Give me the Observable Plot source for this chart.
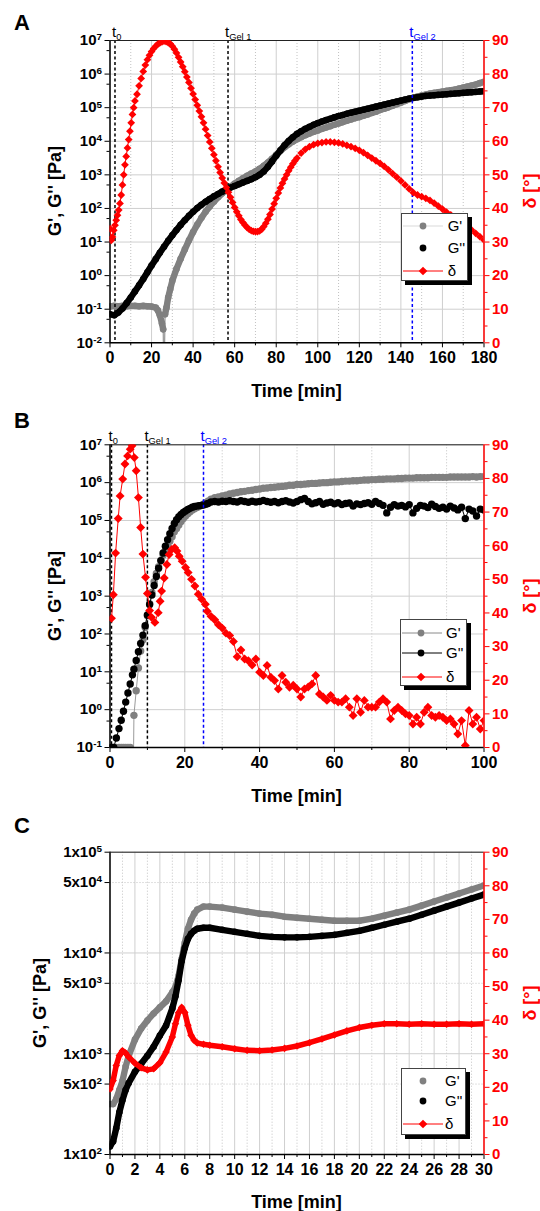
<!DOCTYPE html>
<html>
<head>
<meta charset="utf-8">
<script src="https://cdn.jsdelivr.net/npm/d3@7"></script>
<script src="https://cdn.jsdelivr.net/npm/@observablehq/plot@0.6"></script>
<style>
html,body{margin:0;padding:0;background:#fff;}
#root{position:relative;width:540px;height:1211px;overflow:hidden;background:#fff;font-family:"Liberation Sans",Arial,Helvetica,sans-serif;}
.lbl{position:absolute;white-space:nowrap;line-height:1;}
</style>
</head>
<body>
<div id="root"></div>
<script>
// ---------------- Panel A data ----------------
const A_time_G2 = [0,2,4,6,8,10,12,14,16,18,20,22,24,26,28,30,32,34,36,38,40,42,44,46,48,50,52,54,56,58,60,62,64,66,68,70,72,74,76,78,80,82,84,86,88,90,92,94,96,98,100,102,104,106,108,110,112,114,116,118,120,122,124,126,128,130,132,134,136,138,140,142,144,146,148,150,152,154,156,158,160,162,164,166,168,170,172,174,176,178,180];
const A_G2_log10 = [-1.15,-1.18,-1.1,-0.98,-0.82,-0.65,-0.47,-0.29,-0.1,0.1,0.3,0.49,0.68,0.86,1.04,1.2,1.36,1.51,1.65,1.78,1.9,2.01,2.11,2.2,2.28,2.36,2.43,2.5,2.56,2.62,2.67,2.72,2.77,2.82,2.87,2.93,3.0,3.1,3.24,3.4,3.57,3.73,3.88,4.01,4.12,4.22,4.3,4.37,4.43,4.49,4.54,4.59,4.63,4.67,4.71,4.75,4.78,4.82,4.85,4.88,4.91,4.94,4.97,5.0,5.03,5.06,5.09,5.12,5.15,5.18,5.21,5.24,5.27,5.29,5.31,5.33,5.35,5.36,5.37,5.38,5.39,5.4,5.41,5.42,5.43,5.44,5.45,5.46,5.47,5.48,5.49];
const A_time_G1 = [0,2,4,6,8,10,12,14,16,18,20,22,23,24,25,25.6,25.9,26.5,27.2,28,29,30,32,34,36,38,40,42,44,46,48,50,52,54,56,58,60,62,64,66,68,70,72,74,76,78,80,82,84,86,88,90,92,94,96,98,100,102,104,106,108,110,112,114,116,118,120,122,124,126,128,130,132,134,136,138,140,142,144,146,148,150,152,154,156,158,160,162,164,166,168,170,172,174,176,178,180];
const A_G1_log10 = [-0.92,-0.9,-0.91,-0.9,-0.91,-0.9,-0.9,-0.91,-0.9,-0.91,-0.92,-0.95,-1.03,-1.18,-1.42,-1.6,-4,-1.15,-0.95,-0.65,-0.4,-0.15,0.2,0.5,0.78,1.05,1.3,1.52,1.72,1.9,2.06,2.2,2.33,2.45,2.55,2.65,2.74,2.82,2.9,2.97,3.04,3.1,3.18,3.27,3.37,3.48,3.6,3.71,3.82,3.91,3.99,4.06,4.12,4.18,4.23,4.28,4.32,4.37,4.41,4.45,4.49,4.53,4.57,4.61,4.65,4.69,4.72,4.76,4.8,4.84,4.88,4.93,4.97,5.01,5.06,5.1,5.15,5.2,5.25,5.3,5.33,5.36,5.39,5.42,5.44,5.46,5.48,5.5,5.52,5.54,5.57,5.6,5.63,5.66,5.69,5.73,5.77];
const A_time_delta = [0,0.6,1.2,1.8,2.4,3,3.6,4.2,4.8,5.4,6,6.6,7.2,7.8,8.4,9,9.6,10.2,10.8,11.4,12,13,14,15,16,17,18,19,20,21,22,23,24,25,26,27,28,29,30,31,32,33,34,35,36,37,38,39,40,41,42,43,44,45,46,47,48,49,50,51,52,53,54,55,56,57,58,59,60,61,62,63,64,65,66,67,68,69,70,71,72,73,74,75,76,77,78,79,80,81,82,83,84,85,86,87,88,89,90,92,94,96,98,100,102,104,106,108,110,112,114,116,118,120,122,124,126,128,130,132,134,136,138,140,142,144,146,148,150,152,154,156,158,160,162,164,166,168,170,172,174,176,178,180];
const A_delta = [34,30.5,31.5,33.5,35,36.5,38,39.5,41.5,44,47,50,53,55.5,58,60.5,63,65.5,68,70,72,74,76.5,78.7,80.8,82.7,84.3,85.6,86.7,87.6,88.3,88.9,89.3,89.6,89.8,89.7,89.4,89,88.3,87.4,86.3,85,83.6,82.2,80.7,79.1,77.5,75.8,74.1,72.4,70.7,69,67.3,65.5,63.6,61.7,59.8,57.9,56,54.2,52.4,50.7,49.1,47.6,46.2,44.8,43.3,41.8,40.3,39,37.8,36.7,35.8,35,34.3,33.8,33.4,33.2,33.1,33.1,33.3,33.8,34.6,35.6,36.8,38.2,39.8,41.4,43,44.6,46.1,47.5,48.8,50,51.2,52.3,53.3,54.2,55,56.5,57.6,58.4,59,59.4,59.6,59.8,59.8,59.7,59.5,59.2,58.8,58.4,57.9,57.3,56.6,55.8,55,54.2,53.4,52.5,51.5,50.4,49.3,48.2,47,45.8,44.7,44,43.5,43,42.4,41.6,40.7,39.8,38.9,38.1,37.3,36.4,35.5,34.6,33.6,32.6,31.6,30.6];
const A_markerTimes = [2.4, 56.8, 145.5];
const A_markerLabels = ["t_0", "t_Gel 1", "t_Gel 2"];
const A_markerColors = ["#000000", "#000000", "#0000ff"];
const A_xTicks = [0,20,40,60,80,100,120,140,160,180];
const A_xTickLabels = ["0","20","40","60","80","100","120","140","160","180"];
const A_xMinor = [10,30,50,70,90,110,130,150,170];
const A_yTicks = [1e-2,1e-1,1e0,1e1,1e2,1e3,1e4,1e5,1e6,1e7];
const A_yTickLabels = ["10^-2","10^-1","10^0","10^1","10^2","10^3","10^4","10^5","10^6","10^7"];
const A_yMinor = [5e-2,5e-1,5e0,5e1,5e2,5e3,5e4,5e5,5e6];

// ---------------- Panel B data ----------------
const B_time_G = [0.4,1.0,1.7,2.4,3.0,3.6,4.2,4.8,5.4,6.0,6.4,7.0,7.6,8.2,8.8,9.4,10.0,10.6,11.2,11.8,12.4,13.0,13.6,14.2,14.8,15.4,16.0,16.6,17.2,17.8,18.4,19.0,19.6,20.2,20.8,21.4,22.0,22.6,23.2,23.8,24.4,25.0,25.6,26.2,27,28,29,30,31,32,33,34,35,36,37,38,39,40,41,42,43,44,45,46,47,48,49,50,51,52,53,54,55,56,57,58,59,60,61,62,63,64,65,66,67,68,69,70,71,72,73,74,75,76,77,78,79,80,81,82,83,84,85,86,87,88,89,90,91,92,93,94,95,96,97,98,99,100];
const B_G2_log10 = [-1.0,-1.0,-0.75,-0.5,-0.28,-0.04,0.2,0.44,0.68,0.92,1.07,1.3,1.53,1.75,1.97,2.22,2.5,2.78,3.03,3.28,3.52,3.74,3.94,4.14,4.32,4.49,4.65,4.79,4.92,5.02,5.1,5.16,5.21,5.25,5.29,5.32,5.35,5.37,5.38,5.39,5.4,5.41,5.43,5.45,
  5.49,5.5,5.49,5.51,5.5,5.52,5.5,5.49,5.52,5.5,5.48,5.51,5.49,5.5,5.53,5.5,5.48,5.5,5.47,5.5,5.52,5.49,5.46,5.5,5.55,5.58,5.5,5.44,5.47,5.5,5.43,5.46,5.48,5.44,5.47,5.42,5.45,5.46,5.38,5.44,5.42,5.45,5.47,5.43,5.5,5.45,5.4,5.2,5.35,5.42,5.38,5.4,5.36,5.42,5.2,5.32,5.4,5.38,5.34,5.43,5.37,5.32,5.35,5.3,5.38,5.33,5.28,5.35,5.05,5.3,5.25,5.12,5.3,5.28];
const B_G1_log10 = [-1,-1,-1,-1,-1,-1,-1,-1,-1,-4,-0.15,0.5,1.1,1.55,1.85,2.17,2.48,2.8,3.1,3.38,3.6,3.78,3.94,4.08,4.2,4.32,4.45,4.57,4.7,4.79,4.88,4.97,5.05,5.12,5.18,5.23,5.28,5.31,5.34,5.37,5.4,5.43,5.47,5.51,
  5.56,5.6,5.62,5.65,5.67,5.7,5.72,5.74,5.76,5.77,5.79,5.8,5.82,5.83,5.85,5.86,5.87,5.88,5.89,5.9,5.91,5.93,5.93,5.95,5.95,5.96,5.97,5.98,5.98,5.99,6.0,6.0,6.01,6.02,6.02,6.03,6.04,6.04,6.05,6.05,6.06,6.07,6.07,6.08,6.08,6.09,6.09,6.1,6.1,6.1,6.11,6.11,6.12,6.12,6.12,6.13,6.13,6.13,6.13,6.14,6.14,6.14,6.14,6.14,6.15,6.15,6.15,6.15,6.15,6.15,6.16,6.15,6.16,6.16];
const B_time_delta = [0.4,0.9,1.5,2.2,2.7,3.4,4.0,4.7,5.4,5.9,6.5,7.0,7.6,8.2,8.8,9.5,10.0,10.6,11.1,12.0,12.9,13.4,13.8,14.5,15.2,15.8,16.5,17.3,17.9,18.5,19.3,20.2,20.9,21.8,22.7,23.6,24.5,25.5,26,27,28,29,30,31,32,33,34,35,36,37,38,39,40,41,42,43,44,45,46,47,48,49,50,51,52,53,54,55,56,57,58,59,60,61,62,63,64,65,66,67,68,69,70,71,72,73,74,75,76,77,78,79,80,81,82,83,84,85,86,87,88,89,90,91,92,93,94,95,96,97,98,99,100];
const B_delta = [38.4,45.4,57.8,68.1,74.8,79.8,84.3,86.7,88.7,89.7,86.2,82.3,74.3,65.4,57.5,50.6,45.8,40.7,38.7,37.2,40.1,43.5,46.5,50.4,54.4,57.4,58.9,59.4,58.4,56.9,55.4,53.5,52,50,48,45.6,44.1,42.6,
  40.5,39,38,36.5,35.5,34,33.3,31.5,27,29,26.3,25.8,24.5,26.3,22.4,21.4,24.4,20.9,19.9,17.4,21.4,19.4,17.9,18.5,17.4,15,17.4,18,18.9,21.4,15.9,15,14,15.5,14,13.5,13.5,14.5,12,9.5,14.5,10.5,14,12,12,12,13.5,14.5,13.5,8.5,11,12,11,10,9.5,7,9,7,10.5,12,9.5,9,9.5,9,8,8.5,7,4,8,0.6,11,7,9,5.5,8];
const B_markerTimes = [0.4, 10, 25];
const B_markerLabels = ["t_0", "t_Gel 1", "t_Gel 2"];
const B_markerColors = ["#000000", "#000000", "#0000ff"];
const B_xTicks = [0,20,40,60,80,100];
const B_xTickLabels = ["0","20","40","60","80","100"];
const B_xMinor = [10,30,50,70,90];
const B_yTicks = [1e-1,1e0,1e1,1e2,1e3,1e4,1e5,1e6,1e7];
const B_yTickLabels = ["10^-1","10^0","10^1","10^2","10^3","10^4","10^5","10^6","10^7"];
const B_yMinor = [5e-1,5e0,5e1,5e2,5e3,5e4,5e5,5e6];

// ---------------- Panel C data ----------------
const C_time = [0,0.25,0.5,0.75,1,1.25,1.5,2,2.5,3,3.5,4,4.5,5,5.25,5.5,5.75,6,6.25,6.5,6.75,7,7.5,8,9,10,11,12,13,14,15,16,17,18,19,20,21,22,23,24,25,26,27,28,29,30];
const C_G1_log10 = [2.5,2.5,2.55,2.64,2.73,2.87,2.98,3.14,3.25,3.33,3.4,3.46,3.52,3.61,3.66,3.77,3.94,4.1,4.24,4.33,4.39,4.43,4.46,4.46,4.45,4.43,4.41,4.39,4.38,4.36,4.35,4.34,4.33,4.32,4.32,4.32,4.34,4.37,4.4,4.43,4.47,4.51,4.55,4.59,4.63,4.67];
const C_G2_log10 = [2.08,2.13,2.26,2.42,2.54,2.64,2.71,2.82,2.9,2.98,3.07,3.18,3.28,3.45,3.57,3.73,3.92,4.05,4.14,4.19,4.22,4.24,4.25,4.25,4.23,4.21,4.19,4.17,4.16,4.155,4.155,4.16,4.17,4.18,4.2,4.22,4.25,4.28,4.31,4.34,4.38,4.42,4.46,4.5,4.54,4.58];
const C_delta = [19.5,22,26.5,29.5,30.9,30.2,29,27.2,25.8,25.2,25.5,27.3,30.5,35,38.9,42.2,43.8,42.3,38.5,35.5,34,33.2,32.8,32.5,32.1,31.5,31,30.9,31.1,31.6,32.3,33.3,34.4,35.6,36.8,37.8,38.5,38.9,38.9,38.8,38.9,38.8,38.8,38.9,38.8,38.9];
const C_xTicks = [0,2,4,6,8,10,12,14,16,18,20,22,24,26,28,30];
const C_xTickLabels = ["0","2","4","6","8","10","12","14","16","18","20","22","24","26","28","30"];
const C_xMinor = [1,3,5,7,9,11,13,15,17,19,21,23,25,27,29];
const C_yTicks = [1e2,5e2,1e3,5e3,1e4,5e4,1e5];
const C_yTickLabels = ["1x10^2","5x10^2","1x10^3","5x10^3","1x10^4","5x10^4","1x10^5"];
const C_yGridMajor = [1e2,1e3,1e4,1e5];
const C_yGridMinor = [5e2,5e3,5e4];

// delta axis (right)
const D_ticks = [0,10,20,30,40,50,60,70,80,90];
const D_tickLabels = ["0","10","20","30","40","50","60","70","80","90"];
const D_minor = [5,15,25,35,45,55,65,75,85];

// ---------------- helpers ----------------
const root = document.getElementById("root");
const FONT = '"Liberation Sans", Arial, Helvetica, sans-serif';
const W = 540, X0 = 109.5, X1 = 483.5;
const RED = "#ff0000", GRAY = "#808080", BLACK = "#000000";
const GRID = "#cfcfcf", GRID_MINOR = "#c2c2c2";

const pow10 = v => Math.pow(10, v);
function rowsOf(ts, vs, tf) { return ts.map((t, i) => ({t, v: tf ? tf(vs[i]) : vs[i]})); }
function markerRows(ts, labels, colors) { return ts.map((t, i) => ({t, label: labels[i], color: colors[i]})); }

function richText(svg) {
  d3.select(svg).selectAll("text").each(function() {
    const s = this.textContent;
    let sep = null;
    if (s.includes("^")) sep = "^"; else if (s.includes("_")) sep = "_";
    if (!sep) return;
    const [b, e] = s.split(sep);
    const t = d3.select(this);
    t.text(null);
    t.append("tspan").text(b);
    if (sep === "^") t.append("tspan").attr("dy", "-0.5em").attr("font-size", "0.66em").text(e);
    else t.append("tspan").attr("dy", "0.3em").attr("font-size", "0.62em").text(e);
  });
}

function place(el, top) {
  el.style.position = "absolute";
  el.style.left = "0px";
  el.style.top = top + "px";
  root.appendChild(el);
}

function buildPanel(p) {
  const common = {
    width: W, height: p.h, marginLeft: X0, marginRight: W - X1, marginTop: p.mt, marginBottom: p.mb,
    style: {fontFamily: FONT, background: "transparent", overflow: "visible", color: "#000"}
  };
  const gMarks = [
    Plot.gridX(p.xMinor, {stroke: GRID_MINOR, strokeOpacity: 1, strokeDasharray: "1,2"}),
    Plot.gridX(p.xTicks, {stroke: GRID, strokeOpacity: 1}),
  ];
  if (p.yGridMinor) gMarks.push(Plot.gridY(p.yGridMinor, {stroke: GRID_MINOR, strokeOpacity: 1, strokeDasharray: "1,2"}));
  gMarks.push(Plot.gridY(p.yGrid, {stroke: GRID, strokeOpacity: 1}));
  gMarks.push(...p.gMarks);
  if (p.markers) {
    gMarks.push(Plot.ruleX(p.markers, {x: "t", stroke: "color", strokeWidth: 1.5, strokeDasharray: "3,2.5"}));
    gMarks.push(Plot.text(p.markers, {x: "t", text: "label", fill: "color", frameAnchor: "top", dy: -14, dx: -3, textAnchor: "start", fontSize: 15}));
  }
  gMarks.push(
    Plot.axisX(p.xTicks, {tickSize: 5, tickPadding: 4, fontSize: 16, fontWeight: "bold", label: null, tickFormat: d => p.xLabels[p.xTicks.indexOf(d)]}),
    Plot.axisX(p.xMinor, {tickSize: 3, label: null, tickFormat: () => ""}),
    // y tick marks (labels drawn with a text mark so every listed tick is labelled)
    Plot.axisY(p.yTicks, {tickSize: 5, label: null, tickFormat: () => ""}),
    Plot.text(p.yTicks, {y: d => d, text: (d, i) => p.yLabels[i], frameAnchor: "left", dx: -8, textAnchor: "end", lineAnchor: "middle", fontSize: 15, fontWeight: "bold", fill: BLACK})
  );
  if (p.yMinor) gMarks.push(Plot.axisY(p.yMinor, {tickSize: 3, label: null, tickFormat: () => ""}));
  gMarks.push(
    Plot.ruleX([p.xDomain[0]], {stroke: BLACK, strokeWidth: 1.5}),
    Plot.ruleY([p.yDomain[0]], {stroke: BLACK, strokeWidth: 1.5}),
    Plot.ruleY([p.yDomain[1]], {stroke: "#222", strokeWidth: 1})
  );
  const g = Plot.plot({
    ...common,
    style: {...common.style, background: "#fff"},
    x: {domain: p.xDomain},
    y: {type: "log", domain: p.yDomain},
    marks: gMarks
  });
  richText(g);
  place(g, p.top);

  const d = Plot.plot({
    ...common,
    x: {domain: p.xDomain, axis: null},
    y: {domain: [0, 90]},
    marks: [
      ...p.dMarks,
      Plot.axisY(D_ticks, {anchor: "right", tickSize: 5, tickPadding: 3, fontSize: 15, fontWeight: "bold", color: RED, label: null, tickFormat: v => D_tickLabels[D_ticks.indexOf(v)]}),
      Plot.axisY(D_minor, {anchor: "right", tickSize: 3, color: RED, label: null, tickFormat: () => ""}),
      Plot.ruleX([p.xDomain[1]], {stroke: RED, strokeWidth: 1.5})
    ]
  });
  place(d, p.top);
}

function addText(txt, x, y, opts) {
  const el = document.createElement("div");
  el.className = "lbl";
  el.textContent = txt;
  Object.assign(el.style, {left: x + "px", top: y + "px", fontFamily: FONT}, opts || {});
  root.appendChild(el);
  return el;
}
function addRotated(txt, cx, cy, color) {
  return addText(txt, cx, cy, {fontSize: "18px", fontWeight: "bold", color: color || "#000",
    transform: "translate(-50%,-50%) rotate(-90deg)"});
}
function addLegend(box, rows) {
  const div = document.createElement("div");
  Object.assign(div.style, {position: "absolute", left: box.x + "px", top: box.y + "px", width: box.w + "px", height: box.h + "px",
    background: "#fff", border: "1px solid #444", boxShadow: "4px 4px 0 #000", boxSizing: "border-box"});
  for (const r of rows) {
    const svg = d3.create("svg").attr("width", 46).attr("height", 16)
      .style("position", "absolute").style("left", "0px").style("top", (r.y - 8) + "px");
    if (r.line) svg.append("line").attr("x1", 1).attr("x2", 41).attr("y1", 8).attr("y2", 8).attr("stroke", r.line).attr("stroke-width", 1);
    if (r.sym === "circle") svg.append("circle").attr("cx", r.mx).attr("cy", 8).attr("r", 3.4).attr("fill", r.color);
    else svg.append("path").attr("transform", `translate(${r.mx},8)`).attr("d", d3.symbol(d3.symbolDiamond2, 48)()).attr("fill", r.color);
    div.appendChild(svg.node());
    const lab = document.createElement("div");
    lab.textContent = r.label;
    Object.assign(lab.style, {position: "absolute", left: r.tx + "px", top: (r.y - 8) + "px", fontSize: "15px", lineHeight: "16px", fontFamily: FONT, whiteSpace: "nowrap"});
    div.appendChild(lab);
  }
  root.appendChild(div);
}

// ---------------- Panel A ----------------
const A_G1 = rowsOf(A_time_G1, A_G1_log10, pow10).map(d => ({...d, seg: d.t < 25.8 ? 0 : 1}));
const A_G2 = rowsOf(A_time_G2, A_G2_log10, pow10);
const A_D = rowsOf(A_time_delta, A_delta);
buildPanel({
  top: 0, h: 405, mt: 40, mb: 62.7,
  xDomain: [0, 180], xTicks: A_xTicks, xLabels: A_xTickLabels, xMinor: A_xMinor,
  yDomain: [1e-2, 1e7], yTicks: A_yTicks, yLabels: A_yTickLabels, yMinor: A_yMinor, yGrid: A_yTicks,
  markers: markerRows(A_markerTimes, A_markerLabels, A_markerColors),
  gMarks: [
    Plot.line(A_G1, {x: "t", y: "v", stroke: GRAY, strokeWidth: 1, clip: true}),
    Plot.line(A_G1.filter(d => d.v > 1e-3), {x: "t", y: "v", z: "seg", stroke: GRAY, strokeWidth: 6.4, strokeLinejoin: "round", strokeLinecap: "round", clip: true}),
    Plot.dot(A_G1, {x: "t", y: "v", r: 3.3, fill: GRAY, clip: true}),
    Plot.line(A_G2, {x: "t", y: "v", stroke: BLACK, strokeWidth: 6.4, strokeLinejoin: "round", strokeLinecap: "round", clip: true}),
    Plot.dot(A_G2, {x: "t", y: "v", r: 3.3, fill: BLACK, clip: true})
  ],
  dMarks: [
    Plot.line(A_D, {x: "t", y: "v", stroke: RED, strokeWidth: 1, clip: true}),
    Plot.dot(A_D, {x: "t", y: "v", symbol: "diamond2", r: 3.5, fill: RED, clip: true})
  ]
});

// ---------------- Panel B ----------------
const B_G1 = rowsOf(B_time_G, B_G1_log10, pow10);
const B_G2 = rowsOf(B_time_G, B_G2_log10, pow10);
const B_D = rowsOf(B_time_delta, B_delta);
buildPanel({
  top: 405, h: 405, mt: 39.3, mb: 63,
  xDomain: [0, 100], xTicks: B_xTicks, xLabels: B_xTickLabels, xMinor: B_xMinor,
  yDomain: [1e-1, 1e7], yTicks: B_yTicks, yLabels: B_yTickLabels, yMinor: B_yMinor, yGrid: B_yTicks,
  markers: markerRows(B_markerTimes, B_markerLabels, B_markerColors),
  gMarks: [
    Plot.line(B_G1, {x: "t", y: "v", stroke: "#9a9a9a", strokeWidth: 1, clip: true}),
    Plot.dot(B_G1, {x: "t", y: "v", r: 3.7, fill: GRAY, clip: true}),
    Plot.line(B_G2, {x: "t", y: "v", stroke: BLACK, strokeWidth: 1, clip: true}),
    Plot.dot(B_G2, {x: "t", y: "v", r: 3.7, fill: BLACK, clip: true})
  ],
  dMarks: [
    Plot.line(B_D, {x: "t", y: "v", stroke: RED, strokeWidth: 1, clip: true}),
    Plot.dot(B_D, {x: "t", y: "v", symbol: "diamond2", r: 4, fill: RED, clip: true})
  ]
});

// ---------------- Panel C ----------------
const C_G1 = rowsOf(C_time, C_G1_log10, pow10);
const C_G2 = rowsOf(C_time, C_G2_log10, pow10);
const C_D = rowsOf(C_time, C_delta);
buildPanel({
  top: 810, h: 401, mt: 41.7, mb: 57,
  xDomain: [0, 30], xTicks: C_xTicks, xLabels: C_xTickLabels, xMinor: C_xMinor,
  yDomain: [1e2, 1e5], yTicks: C_yTicks, yLabels: C_yTickLabels, yMinor: null, yGrid: C_yGridMajor, yGridMinor: C_yGridMinor,
  markers: null,
  gMarks: [
    Plot.line(C_G1, {x: "t", y: "v", stroke: GRAY, strokeWidth: 6.4, strokeLinejoin: "round", strokeLinecap: "round", clip: true}),
    Plot.dot(C_G1, {x: "t", y: "v", r: 3.3, fill: GRAY, clip: true}),
    Plot.line(C_G2, {x: "t", y: "v", stroke: BLACK, strokeWidth: 6.4, strokeLinejoin: "round", strokeLinecap: "round", clip: true}),
    Plot.dot(C_G2, {x: "t", y: "v", r: 3.3, fill: BLACK, clip: true})
  ],
  dMarks: [
    Plot.line(C_D, {x: "t", y: "v", stroke: RED, strokeWidth: 5.5, strokeLinejoin: "round", strokeLinecap: "round", clip: true}),
    Plot.dot(C_D, {x: "t", y: "v", symbol: "diamond2", r: 3.4, fill: RED, clip: true})
  ]
});

// ---------------- titles ----------------
addText("A", 14, 12, {fontSize: "22px", fontWeight: "bold"});
addText("B", 14, 410, {fontSize: "22px", fontWeight: "bold"});
addText("C", 14, 815, {fontSize: "22px", fontWeight: "bold"});
for (const [cx, cy, ty] of [[55, 191, 382], [55, 595.6, 786.5], [40, 1003, 1192.5]]) {
  addRotated("G', G'' [Pa]", cx, cy);
  addRotated("δ [°]", 530, cy, RED);
  addText("Time [min]", (X0 + X1) / 2, ty, {fontSize: "18px", fontWeight: "bold", transform: "translateX(-50%)"});
}

// ---------------- legends ----------------
addLegend({x: 400.7, y: 213.3, w: 67.6, h: 67.4}, [
  {label: "G'", y: 11.7, line: "#d9d9d9", sym: "circle", color: GRAY, mx: 21, tx: 46},
  {label: "G''", y: 33.4, line: null, sym: "circle", color: BLACK, mx: 21, tx: 46},
  {label: "δ", y: 56.7, line: RED, sym: "diamond", color: RED, mx: 21, tx: 46}
]);
addLegend({x: 400, y: 618.5, w: 66.5, h: 67}, [
  {label: "G'", y: 13.2, line: "#8a8a8a", sym: "circle", color: GRAY, mx: 20, tx: 45},
  {label: "G''", y: 33.8, line: BLACK, sym: "circle", color: BLACK, mx: 20, tx: 45},
  {label: "δ", y: 57.5, line: RED, sym: "diamond", color: RED, mx: 20, tx: 45}
]);
addLegend({x: 400.5, y: 1067.7, w: 65, h: 67.3}, [
  {label: "G'", y: 12.3, line: null, sym: "circle", color: GRAY, mx: 21, tx: 43.5},
  {label: "G''", y: 32.3, line: null, sym: "circle", color: BLACK, mx: 21, tx: 43.5},
  {label: "δ", y: 55.6, line: RED, sym: "diamond", color: RED, mx: 21, tx: 43.5}
]);
</script>
</body>
</html>
